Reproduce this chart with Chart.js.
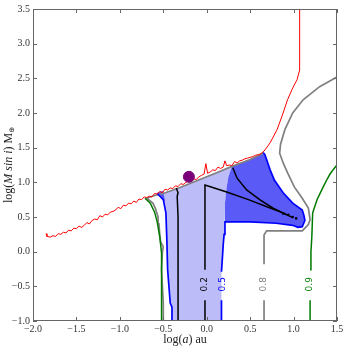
<!DOCTYPE html>
<html>
<head>
<meta charset="utf-8">
<script src="https://cdn.jsdelivr.net/npm/chart.js@4.4.1/dist/chart.umd.min.js"></script>
<style>
  html, body { margin: 0; padding: 0; background: #fff; }
  #wrap { width: 347px; height: 353px; }
</style>
</head>
<body>
<div id="wrap"><canvas id="grafico"></canvas></div>
<script>
// eixos
const xTicks = [-2.0, -1.5, -1.0, -0.5, 0.0, 0.5, 1.0, 1.5];
const yTicks = [-1.0, -0.5, 0.0, 0.5, 1.0, 1.5, 2.0, 2.5, 3.0, 3.5];

// limite de deteccao (vermelho)
const redLine = [
  [-1.85,0.26],[-1.84,0.22],[-1.80,0.21],[-1.77,0.23],[-1.74,0.22],[-1.71,0.26],[-1.68,0.25],[-1.65,0.28],
  [-1.62,0.27],[-1.59,0.31],[-1.56,0.30],[-1.53,0.34],[-1.50,0.33],[-1.47,0.37],[-1.44,0.35],[-1.41,0.38],
  [-1.38,0.42],[-1.35,0.40],[-1.32,0.45],[-1.29,0.47],[-1.26,0.46],[-1.23,0.52],[-1.20,0.50],[-1.17,0.54],
  [-1.14,0.53],[-1.11,0.57],[-1.08,0.58],[-1.05,0.60],[-1.02,0.64],[-0.99,0.62],[-0.96,0.67],[-0.93,0.66],
  [-0.90,0.70],[-0.87,0.69],[-0.84,0.73],[-0.81,0.71],[-0.78,0.76],[-0.75,0.75],[-0.72,0.79],[-0.69,0.78],
  [-0.66,0.80],[-0.63,0.79],[-0.60,0.84],[-0.57,0.83],[-0.54,0.87],[-0.51,0.85],[-0.48,0.90],[-0.45,0.89],
  [-0.42,0.92],[-0.39,0.91],[-0.36,0.95],[-0.33,0.94],[-0.30,0.98],[-0.27,0.97],[-0.24,1.00],[-0.21,1.02],
  [-0.18,1.01],[-0.15,1.05],[-0.12,1.04],[-0.09,1.08],[-0.06,1.10],[-0.03,1.12],[-0.01,1.27],[0.01,1.13],
  [0.04,1.15],[0.07,1.18],[0.10,1.17],[0.13,1.22],[0.16,1.20],[0.19,1.22],[0.21,1.31],[0.23,1.24],
  [0.26,1.25],[0.29,1.24],[0.32,1.30],[0.35,1.28],[0.38,1.31],[0.41,1.32],[0.44,1.34],[0.47,1.35],
  [0.50,1.36],[0.53,1.37],[0.56,1.39],[0.60,1.40],[0.63,1.42],[0.66,1.45],[0.73,1.57],[0.81,1.76],
  [0.88,2.00],[0.93,2.19],[0.99,2.36],[1.04,2.48],[1.07,2.62],[1.07,3.50]
];

// contornos (null = corte para o rotulo)
const greyLeft = [
  [-0.50,-1.00],[-0.50,-0.74],[-0.52,-0.26],[-0.51,0.00],[-0.50,0.07],[-0.53,0.14],[-0.54,0.24],
  [-0.55,0.40],[-0.56,0.50],[-0.59,0.62],[-0.62,0.70],[-0.69,0.77],[-0.60,0.81],[-0.50,0.84],
  [-0.30,0.93],[-0.10,1.03],[0.10,1.13],[0.29,1.23],[0.50,1.33],[0.65,1.42]
];
const greyRight = [
  [1.50,2.52],[1.30,2.38],[1.11,2.19],[0.99,2.00],[0.90,1.76],[0.85,1.55],[0.84,1.42],[0.88,1.28],
  [0.93,1.14],[1.01,0.93],[1.10,0.77],[1.17,0.63],[1.19,0.46],[1.17,0.39],[1.10,0.30],[0.92,0.30],
  [0.69,0.30],[0.66,0.24],[0.66,-0.18],null,[0.66,-0.70],[0.66,-1.00]
];
const blueLeft = [
  [-0.40,-1.00],[-0.40,-0.80],[-0.42,-0.74],[-0.45,-0.26],[-0.46,0.21],[-0.47,0.56],[-0.50,0.75],[-0.57,0.84]
];
const blueRight = [
  [0.17,-1.00],[0.17,-0.70],null,[0.17,-0.29],[0.18,-0.10],[0.19,0.10],[0.20,0.25],[0.21,0.43],
  [0.50,0.43],[0.80,0.41],[0.99,0.38],[1.05,0.35],[1.10,0.36],[1.13,0.45],[1.12,0.52],[1.10,0.60],
  [0.99,0.70],[0.88,0.85],[0.78,1.03],[0.73,1.18],[0.67,1.40],[0.65,1.43]
];
const blackLeft = [
  [-0.33,-1.00],[-0.33,-0.50],[-0.33,0.50],[-0.34,0.80],[-0.33,0.85],[-0.35,0.92]
];
const blackMid = [
  [-0.02,-1.00],[-0.02,-0.70],null,[-0.02,-0.26],[-0.02,0.50],[-0.02,0.96],[0.06,0.93],[0.23,0.86],
  [0.48,0.75],[0.73,0.63],[0.88,0.56],[0.99,0.49]
];
const blackUpper = [
  [0.30,1.21],[0.35,1.06],[0.46,0.89],[0.61,0.75],[0.76,0.63],[0.92,0.53]
];
const blackDots = [[0.88,0.55],[0.94,0.53],[0.99,0.50],[1.03,0.48]];
const greenLeft = [
  [-0.52,-1.00],[-0.52,-0.51],[-0.52,-0.02],[-0.54,0.21],[-0.57,0.43],[-0.60,0.57],[-0.65,0.70],[-0.71,0.77]
];
const greenRight = [
  [1.19,-1.00],[1.19,-0.70],null,[1.19,-0.26],[1.20,0.00],[1.21,0.21],[1.22,0.56],[1.27,0.75],
  [1.34,0.93],[1.38,1.03],[1.42,1.12],[1.46,1.19],[1.50,1.25]
];

// regioes preenchidas
const lightFill = [
  [-0.40,-1.00],[-0.40,-0.80],[-0.42,-0.74],[-0.45,-0.26],[-0.46,0.21],[-0.47,0.56],[-0.50,0.75],
  [-0.57,0.84],[-0.50,0.84],[-0.30,0.93],[-0.10,1.03],[0.10,1.13],[0.29,1.23],[0.25,1.08],[0.23,0.93],
  [0.21,0.70],[0.21,0.43],[0.20,0.25],[0.19,0.10],[0.18,-0.10],[0.17,-0.29],[0.17,-1.00]
];
const darkFill = [
  [0.29,1.23],[0.50,1.33],[0.65,1.42],[0.67,1.40],[0.73,1.18],[0.78,1.03],[0.88,0.85],[0.99,0.70],
  [1.10,0.60],[1.12,0.52],[1.13,0.45],[1.10,0.36],[1.05,0.35],[0.99,0.38],[0.80,0.41],[0.50,0.43],
  [0.21,0.43],[0.21,0.70],[0.23,0.93],[0.25,1.08]
];
const darkPatch = [[-0.57,0.85],[-0.50,0.88],[-0.48,0.72]];

// planeta
const planet = [[-0.205,1.08]];

// rotulos dos contornos
const levelLabels = ['0.2', '0.5', '0.8', '0.9'];
const levelX = [-0.02, 0.18, 0.66, 1.19];
const levelY = -0.47;
const levelColors = ['#000000', '#0000ff', '#808080', '#007a00'];

const pts = arr => arr.map(p => p ? { x: p[0], y: p[1] } : { x: null, y: null });

function linha(arr, cor, larg, ordem) {
  return { data: pts(arr), borderColor: cor, borderWidth: larg, pointRadius: 0, fill: false, tension: 0, order: ordem };
}
function area(arr, cor) {
  return { data: pts(arr), borderWidth: 0, borderColor: 'rgba(0,0,0,0)', backgroundColor: cor, pointRadius: 0, fill: 'shape', tension: 0, order: 20 };
}

const fmt = v => v.toFixed(1).replace('-', '\u2212');

const decoracao = {
  id: 'decoracao',
  afterDatasetsDraw(chart) {
    const { ctx, chartArea: a, scales: { x, y } } = chart;
    ctx.save();
    // rotulos dos niveis
    ctx.font = '9px "DejaVu Sans"';
    ctx.textAlign = 'center';
    ctx.textBaseline = 'middle';
    levelLabels.forEach((t, i) => {
      ctx.save();
      ctx.translate(x.getPixelForValue(levelX[i]), y.getPixelForValue(levelY));
      ctx.rotate(-Math.PI / 2);
      ctx.fillStyle = levelColors[i];
      ctx.fillText(t, 0, 0);
      ctx.restore();
    });
    // moldura e ticks internos
    ctx.strokeStyle = '#666';
    ctx.lineWidth = 1;
    ctx.strokeRect(a.left + 0.5, a.top + 0.5, a.right - a.left - 1, a.bottom - a.top - 1);
    ctx.beginPath();
    xTicks.forEach(v => {
      const px = Math.round(x.getPixelForValue(v)) + 0.5;
      ctx.moveTo(px, a.bottom); ctx.lineTo(px, a.bottom - 4);
      ctx.moveTo(px, a.top); ctx.lineTo(px, a.top + 4);
    });
    yTicks.forEach(v => {
      const py = Math.round(y.getPixelForValue(v)) + 0.5;
      ctx.moveTo(a.left, py); ctx.lineTo(a.left + 4, py);
      ctx.moveTo(a.right, py); ctx.lineTo(a.right - 4, py);
    });
    ctx.stroke();
    ctx.restore();
  },
  afterDraw(chart) {
    const { ctx, chartArea: a } = chart;
    const pedacos = (partes, cx, cy, rot) => {
      ctx.save();
      ctx.translate(cx, cy);
      ctx.rotate(rot);
      ctx.fillStyle = '#222';
      ctx.textBaseline = 'middle';
      ctx.textAlign = 'left';
      let total = 0;
      partes.forEach(p => { ctx.font = p[1]; total += ctx.measureText(p[0]).width; });
      let pos = -total / 2;
      partes.forEach(p => {
        ctx.font = p[1];
        ctx.fillText(p[0], pos, p[2] || 0);
        pos += ctx.measureText(p[0]).width;
      });
      ctx.restore();
    };
    const reg = '12px "Liberation Serif"';
    const ita = 'italic 12px "Liberation Serif"';
    pedacos([['log(', reg], ['a', ita], [') au', reg]], (a.left + a.right) / 2, 340, 0);
    pedacos([['log(', reg], ['M sin i', ita], [') M', reg], ['\u2295', '7px "DejaVu Sans"', 3]],
      9, (a.top + a.bottom) / 2, -Math.PI / 2);
  }
};

new Chart(document.getElementById('grafico'), {
  type: 'line',
  data: {
    datasets: [
      { data: pts(planet), showLine: false, pointRadius: 5.5, pointBackgroundColor: '#7a007a', pointBorderColor: '#7a007a', order: 1 },
      linha(redLine, '#ff0000', 1, 2),
      { data: pts(blackDots), showLine: false, pointRadius: 1.3, pointBackgroundColor: '#000', pointBorderWidth: 0, order: 3 },
      linha(blackUpper, '#000000', 1.5, 4),
      linha(blackMid, '#000000', 1.5, 4),
      linha(blackLeft, '#000000', 1.5, 4),
      linha(blueLeft, '#0000ff', 1.7, 5),
      linha(blueRight, '#0000ff', 1.7, 5),
      linha(greenLeft, '#007a00', 1.5, 6),
      linha(greenRight, '#007a00', 1.5, 6),
      linha(greyLeft, '#808080', 1.7, 7),
      linha(greyRight, '#808080', 1.7, 7),
      area(darkFill, '#5a5af6'),
      area(darkPatch, '#5a5af6'),
      area(lightFill, '#bcbcf8')
    ]
  },
  options: {
    responsive: true,
    maintainAspectRatio: false,
    animation: false,
    layout: { padding: { top: 9, right: 10, left: 0, bottom: 0 } },
    plugins: { legend: { display: false }, tooltip: { enabled: false } },
    scales: {
      x: {
        type: 'linear', min: -2, max: 1.5,
        afterBuildTicks: s => { s.ticks = xTicks.map(v => ({ value: v })); },
        afterFit: s => { s.height = 32; },
        grid: { display: false, drawTicks: false },
        border: { display: false },
        ticks: { callback: fmt, color: '#333', padding: 2, maxRotation: 0, font: { family: 'Liberation Serif', size: 10 } }
      },
      y: {
        type: 'linear', min: -1, max: 3.5,
        afterBuildTicks: s => { s.ticks = yTicks.map(v => ({ value: v })); },
        afterFit: s => { s.width = 33; },
        grid: { display: false, drawTicks: false },
        border: { display: false },
        ticks: { callback: fmt, color: '#333', padding: 3, font: { family: 'Liberation Serif', size: 10 } }
      }
    }
  },
  plugins: [decoracao]
});
</script>
</body>
</html>
